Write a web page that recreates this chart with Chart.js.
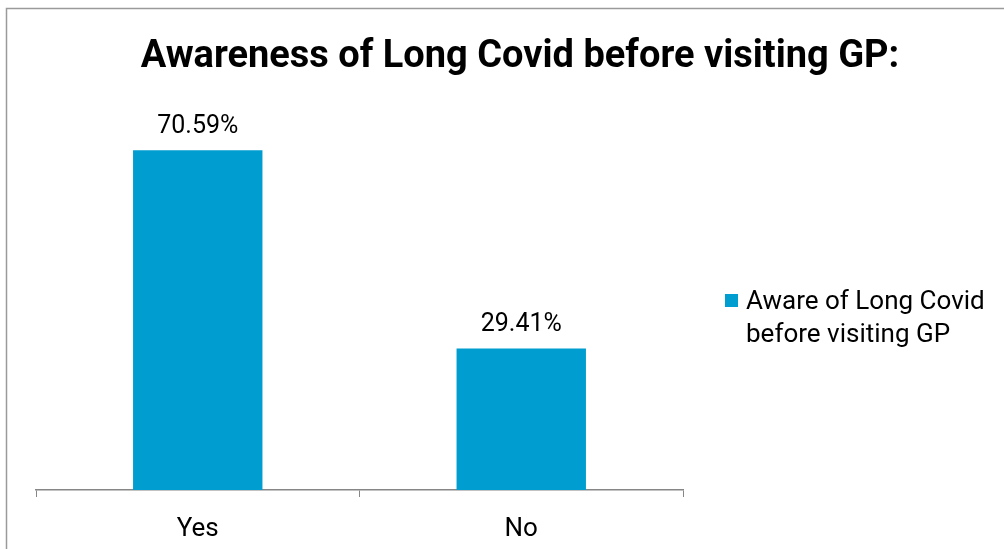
<!DOCTYPE html>
<html>
<head>
<meta charset="utf-8">
<script src="https://cdn.jsdelivr.net/npm/chart.js@4/dist/chart.umd.min.js"></script>
<style>
  html, body { margin: 0; padding: 0; background: #fff; }
  #wrap { width: 1004px; height: 549px; position: relative; }
</style>
</head>
<body>
<div id="wrap"><canvas id="c" width="1004" height="549"></canvas></div>
<script>
// Awareness survey: share of respondents, in percent
const categories = ['Yes', 'No'];
const awareValues = [70.59, 29.41];
const seriesLabel = 'Aware of Long Covid before visiting GP';
const chartTitle = 'Awareness of Long Covid before visiting GP:';

const BAR_COLOR = '#009DD0';
const FONT = 'Roboto, "Liberation Sans", sans-serif';

// white background + the grey frame around the chart
const framePlugin = {
  id: 'frame',
  beforeDraw(chart) {
    const ctx = chart.ctx;
    ctx.save();
    ctx.fillStyle = '#fff';
    ctx.fillRect(0, 0, chart.width, chart.height);
    ctx.strokeStyle = '#9a9a9a';
    ctx.lineWidth = 1.5;
    ctx.beginPath();
    ctx.moveTo(6.5, chart.height);
    ctx.lineTo(6.5, 8.5);
    ctx.lineTo(chart.width, 8.5);
    ctx.stroke();
    ctx.restore();
  }
};

// title, value labels above the bars, legend on the right
const textPlugin = {
  id: 'texts',
  afterDraw(chart) {
    const ctx = chart.ctx;
    ctx.save();
    ctx.fillStyle = '#000';

    ctx.font = 'bold 38px ' + FONT;
    ctx.textAlign = 'center';
    ctx.textBaseline = 'alphabetic';
    ctx.fillText(chartTitle, 520, 67);

    const ds = chart.data.datasets[0];
    const meta = chart.getDatasetMeta(0);
    ctx.font = '25px ' + FONT;
    meta.data.forEach((bar, i) => {
      ctx.fillText(ds.data[i].toFixed(2) + '%', bar.x, bar.y - 17);
    });

    // legend entry, wrapped to two lines
    ctx.font = '26px ' + FONT;
    ctx.textAlign = 'left';
    const words = ds.label.split(' ');
    const lines = [];
    let cur = '';
    words.forEach(w => {
      const t = cur ? cur + ' ' + w : w;
      if (ctx.measureText(t).width > 250 && cur) { lines.push(cur); cur = w; }
      else cur = t;
    });
    lines.push(cur);
    ctx.fillStyle = ds.backgroundColor;
    ctx.fillRect(725, 294, 13, 13);
    ctx.fillStyle = '#000';
    lines.forEach((l, i) => ctx.fillText(l, 746, 309 + i * 33));
    ctx.restore();
  }
};

new Chart(document.getElementById('c'), {
  type: 'bar',
  data: {
    labels: categories,
    datasets: [{
      label: seriesLabel,
      data: awareValues,
      backgroundColor: BAR_COLOR,
      barPercentage: 0.4,
      categoryPercentage: 1.0
    }]
  },
  options: {
    responsive: false,
    animation: false,
    layout: { padding: { left: 36, right: 321, top: 105, bottom: 0 } },
    plugins: {
      legend: { display: false },
      title: { display: false },
      tooltip: { enabled: false }
    },
    scales: {
      y: { display: false, min: 0, max: 80 },
      x: {
        offset: true,
        afterFit(scale) { scale.height = 59; },
        grid: {
          offset: true,
          drawOnChartArea: false,
          tickLength: 7,
          color: '#868686'
        },
        border: { color: '#868686', width: 1.5 },
        ticks: { color: '#000', font: { family: FONT, size: 26 }, padding: 17 }
      }
    }
  },
  plugins: [framePlugin, textPlugin]
});
</script>
</body>
</html>
